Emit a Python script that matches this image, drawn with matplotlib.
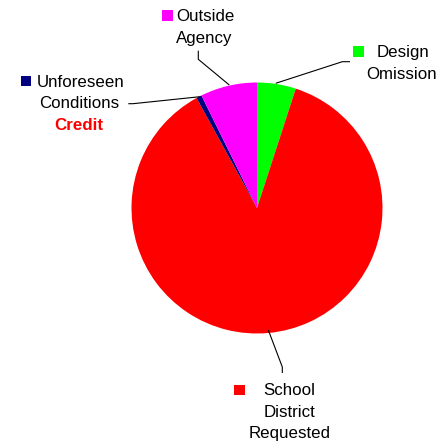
import matplotlib
matplotlib.use("Agg")
import matplotlib.pyplot as plt
from matplotlib.patches import Rectangle

categories = ["Design Omission", "School District Requested", "Unforeseen Conditions", "Outside Agency"]
values = [5.0, 87.0, 0.7, 7.3]
colors = ["#00FF00", "#FF0000", "#000080", "#FF00FF"]

W, H = 448, 444
fig = plt.figure(figsize=(W / 100, H / 100), dpi=100)
ax = fig.add_axes([0, 0, 1, 1])

def Y(py):
    return H - py

ax.pie(values, colors=colors, startangle=90, counterclock=False,
       center=(257, Y(208)), radius=125.5, wedgeprops=dict(linewidth=0))
ax.set_xlim(0, W)
ax.set_ylim(0, H)
ax.set_aspect("auto")
ax.axis("off")

font = dict(family=["Liberation Sans", "DejaVu Sans"], fontsize=12.2, color="black")

def sq(x0, y0, c):
    ax.add_patch(Rectangle((x0, Y(y0 + 10.3)), 10.3, 10.3, color=c, lw=0))

def line(pts):
    ax.plot([p[0] for p in pts], [Y(p[1]) for p in pts], color="black", lw=0.8,
            solid_capstyle="butt")

# Outside Agency
sq(162.3, 10.5, colors[3])
ax.text(176.7, Y(20.7), "Outside", ha="left", va="baseline", **font)
ax.text(204.7, Y(42.7), "Agency", ha="center", va="baseline", **font)
line([(198.3, 50.7), (198.3, 59.3), (229.3, 85)])

# Design Omission
sq(353.3, 46.5, colors[0])
ax.text(376.7, Y(56.7), "Design", ha="left", va="baseline", **font)
ax.text(402, Y(79), "Omission", ha="center", va="baseline", **font)
line([(350, 61.7), (342.3, 61.7), (275.7, 83.3)])

# Unforeseen Conditions
sq(20.7, 76.2, colors[2])
ax.text(36.7, Y(86.7), "Unforeseen", ha="left", va="baseline", **font)
ax.text(79.5, Y(108.3), "Conditions", ha="center", va="baseline", **font)
fc = dict(font)
fc["color"] = "#FF0000"
ax.text(79.2, Y(130), "Credit", ha="center", va="baseline", fontweight="bold", **fc)
line([(128.3, 103.7), (133, 103.7), (200, 96.7)])

# School District Requested
sq(234.3, 384.8, colors[1])
ax.text(289.5, Y(395.3), "School", ha="center", va="baseline", **font)
ax.text(289.5, Y(416.7), "District", ha="center", va="baseline", **font)
ax.text(289.3, Y(438.2), "Requested", ha="center", va="baseline", **font)
line([(268.3, 330), (282.3, 367), (282.3, 373)])

fig.savefig("out.png", dpi=100)
